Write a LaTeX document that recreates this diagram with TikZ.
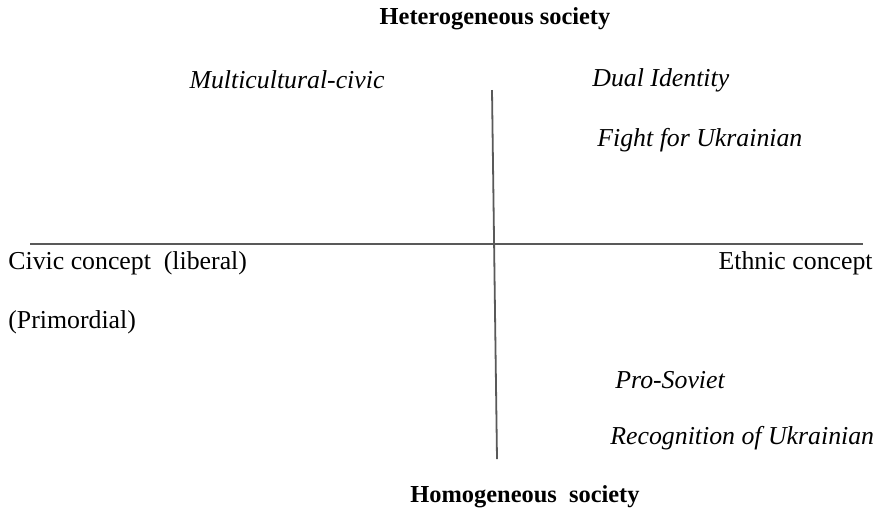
\documentclass[tikz,border=0pt]{standalone}
\usepackage{fontspec}
\setmainfont{Liberation Serif}

\tikzset{
  axis/.style={draw=black!65,line width=0.9pt},
  stance/.style={font=\fontsize{12.9}{15}\selectfont\itshape},
  pole/.style={font=\fontsize{12.9}{15}\selectfont},
  title/.style={font=\fontsize{12.2}{15}\selectfont\bfseries}
}
\tikzstyle{every node}=[inner sep=0pt,color=black]

\begin{document}
\begin{tikzpicture}[x=0.5pt,y=-0.5pt]
    \useasboundingbox (0,0) rectangle (878,511);
    \coordinate (L) at (30,244);
    \coordinate (R) at (863,244);
    \coordinate (T) at (492,90);
    \coordinate (B) at (497,459);
    \draw [axis] (L) -- (R);
    \draw [axis] (T) -- (B);
    \node [title] (het) at (495,19) {Heterogeneous society};
    \node [title] (hom) at (525,497) {Homogeneous\ \ society};
    \node [pole,anchor=west] (civic) at (8,263) {Civic concept\ \ (liberal)};
    \node [pole,anchor=west] (prim) at (8,322) {(Primordial)};
    \node [pole,anchor=east] (ethnic) at (873,263) {Ethnic concept};
    \node [stance] (multi) at (287,80) {Multicultural-civic};
    \node [stance,anchor=west] (dual) at (592,80) {Dual Identity};
    \node [stance,anchor=west] (fight) at (597,140) {Fight for Ukrainian};
    \node [stance,anchor=west] (sov) at (615,380) {Pro-Soviet};
    \node [stance,anchor=west] (recog) at (610,438) {Recognition of Ukrainian};
\end{tikzpicture}
\end{document}
